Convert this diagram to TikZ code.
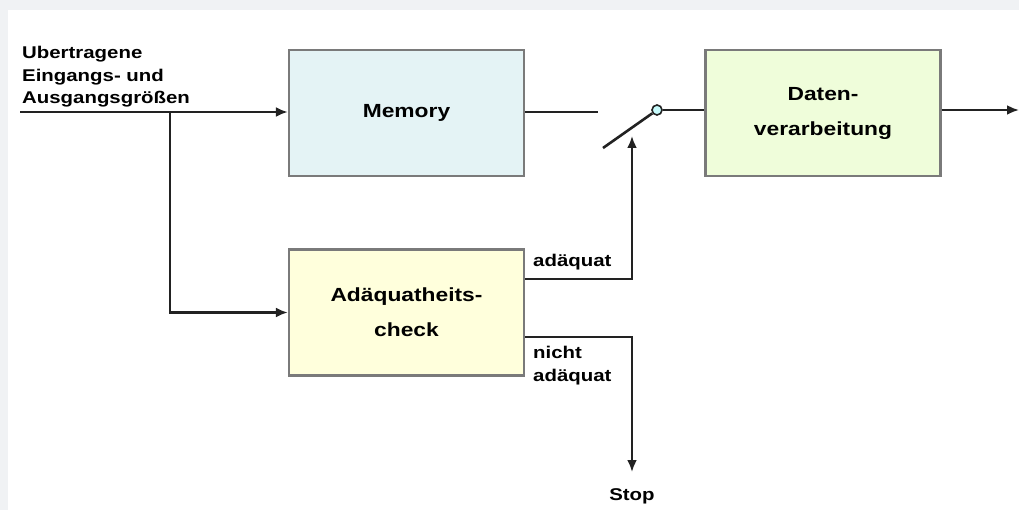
\documentclass[tikz,border=0pt]{standalone}
\usepackage{fontspec}
\setmainfont{Liberation Sans}[FakeStretch=1.2]
\usetikzlibrary{arrows.meta}
\definecolor{rahmen}{HTML}{7A7A7A}
\definecolor{memfill}{HTML}{E4F3F5}
\definecolor{datfill}{HTML}{EFFDDA}
\definecolor{chkfill}{HTML}{FFFFDC}
\definecolor{hgrund}{HTML}{F0F2F4}
\definecolor{leitung}{HTML}{222222}
\tikzset{
  block/.style={draw=rahmen, line width=2.2pt, minimum width=235pt, minimum height=126pt,
    inner sep=0pt, align=center, font=\fontsize{19}{35}\selectfont\bfseries},
  wire/.style={draw=leitung, line width=2.6pt},
  pfeil/.style={wire, -{Latex[length=12pt,width=10pt]}},
  beschr/.style={inner sep=0pt, align=left, font=\fontsize{17}{22.5}\selectfont\bfseries}
}
\begin{document}
\begin{tikzpicture}[x=1pt,y=-1pt]
        \useasboundingbox (0,0) rectangle (1019,510);
        \fill[hgrund] (0,0) rectangle (1019,510);
        \fill[white] (8,10) rectangle (1019,510);
        % bloecke
        \node[block, fill=memfill] (mem) at (406.5,113) {Memory};
        \node[block, fill=datfill] (dat) at (823,113) {Daten-\\verarbeitung};
        \node[block, fill=chkfill] (chk) at (406.5,312.5) {Ad\"aquatheits-\\check};
        % eingang und verzweigung
        \coordinate (ein) at (20,112);
        \coordinate (abzw) at (170,112);
        \node[beschr, anchor=north west] (einText) at (22,46) {Ubertragene\\Eingangs- und\\Ausgangsgr\"o\ss en};
        \draw[pfeil] (ein) -- (ein -| mem.west);
        \draw[pfeil] (abzw) |- (chk.west);
        % schalter
        \coordinate (memEnde) at (598,112);
        \coordinate (swFuss) at (603,148);
        \node[circle, draw=leitung, fill=memfill!70!cyan!60, line width=1.6pt, minimum size=10pt, inner sep=0pt] (swKopf) at (657,110) {};
        \draw[wire] (mem.east |- memEnde) -- (memEnde);
        \draw[wire] (swFuss) -- (swKopf);
        \draw[wire] (swKopf) -- (swKopf -| dat.west);
        \draw[pfeil] (dat.east |- swKopf) -- (1019,110);
        % pruefergebnis
        \coordinate (ok) at (632,279);
        \coordinate (swPfeil) at (632,136);
        \coordinate (nok) at (632,337);
        \node (stop) at (632,496) [font=\fontsize{17}{20}\selectfont\bfseries, inner sep=0pt] {Stop};
        \draw[pfeil] (chk.east |- ok) -- (ok) -- (swPfeil);
        \draw[pfeil] (chk.east |- nok) -- (nok) -- (632,472);
        \node[beschr, anchor=south west] (okText) at (533,270) {ad\"aquat};
        \node[beschr, anchor=north west] (nokText) at (533,346) {nicht\\ad\"aquat};
        \end{tikzpicture}
\end{document}
